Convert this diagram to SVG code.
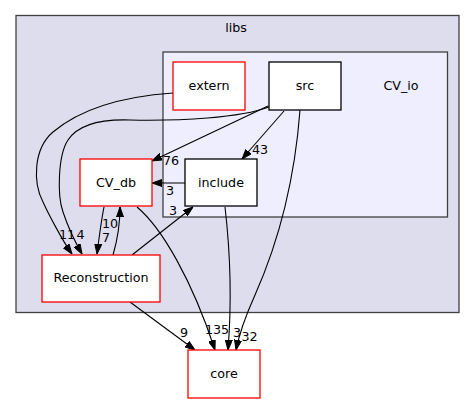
<svg xmlns="http://www.w3.org/2000/svg" width="475" height="404" viewBox="0 0 475 404">
<style>
text{font-family:"DejaVu Sans","Liberation Sans",sans-serif;font-size:12.7px;fill:#000;text-anchor:middle}
.cl{stroke:#404040;stroke-width:1.3}
.nd{fill:#fff;stroke-width:1.3}
.red{stroke:#ff0000}
.blk{stroke:#000}
.e{fill:none;stroke:#000;stroke-width:1.1}
</style>
<defs>
<marker id="ah" viewBox="0 0 10 7" refX="10" refY="3.5" markerWidth="10" markerHeight="7.5" markerUnits="userSpaceOnUse" orient="auto">
<path d="M0,0 L10,3.5 L0,7 z" fill="#000" stroke="#000"/>
</marker>
</defs>
<rect width="475" height="404" fill="#fff"/>
<g id="clust_libs">
<rect class="cl" x="16" y="15.5" width="443" height="297" fill="#ddddee"/>
<text x="236" y="32">libs</text>
</g>
<g id="clust_CV_io">
<rect class="cl" x="163" y="52" width="284.5" height="165" fill="#eeeeff"/>
<text x="401" y="90">CV_io</text>
</g>
<g id="edges">
<path class="e" marker-end="url(#ah)" d="M173,93 C130,96 85,105 53,132 C33,149 33,183 43,202 C48,213 62,240 72,254"/>
<path class="e" marker-end="url(#ah)" d="M269,107 C240,118 180,121 130,120 C100,119 78,125 68,140 C58,155 57,195 63,212 C66,221 74,240 82,254"/>
<path class="e" marker-end="url(#ah)" d="M268,106 L152,161"/>
<path class="e" marker-end="url(#ah)" d="M284,111 L242,159"/>
<path class="e" marker-end="url(#ah)" d="M300,110 C294,190 275,250 255,295 C246,315 239,335 236,350"/>
<path class="e" marker-end="url(#ah)" d="M185,183 L152,183"/>
<path class="e" marker-end="url(#ah)" d="M225,207 C230,250 232,300 228,350"/>
<path class="e" marker-end="url(#ah)" d="M104,207 C101,222 99,238 97,254"/>
<path class="e" marker-end="url(#ah)" d="M113,255 C118,238 120,222 120,207"/>
<path class="e" marker-end="url(#ah)" d="M137,207 C162,228 192,280 215,350"/>
<path class="e" marker-end="url(#ah)" d="M132,255 L193,207"/>
<path class="e" marker-end="url(#ah)" d="M130,302 L195,350"/>
<text x="171" y="165">76</text>
<text x="260" y="154">43</text>
<text x="170" y="195">3</text>
<text x="173" y="215">3</text>
<text x="67" y="239">11</text>
<text x="80.5" y="239">4</text>
<text x="110" y="228">10</text>
<text x="106" y="241.5">7</text>
<text x="217" y="334">135</text>
<text x="237" y="337">3</text>
<text x="249.5" y="341">32</text>
<text x="184" y="336.5">9</text>
</g>
<g id="node_extern">
<rect class="nd red" x="173" y="62" width="72" height="48"/>
<text x="209" y="90">extern</text>
</g>
<g id="node_src">
<rect class="nd blk" x="269" y="62" width="72" height="48"/>
<text x="305" y="90">src</text>
</g>
<g id="node_CV_db">
<rect class="nd red" x="80" y="159" width="72" height="47"/>
<text x="116" y="187">CV_db</text>
</g>
<g id="node_include">
<rect class="nd blk" x="185" y="159" width="72" height="47"/>
<text x="221" y="187">include</text>
</g>
<g id="node_Reconstruction">
<rect class="nd red" x="42" y="255" width="118" height="47"/>
<text x="101" y="282">Reconstruction</text>
</g>
<g id="node_core">
<rect class="nd red" x="188" y="350" width="72" height="48"/>
<text x="224" y="378">core</text>
</g>
</svg>
